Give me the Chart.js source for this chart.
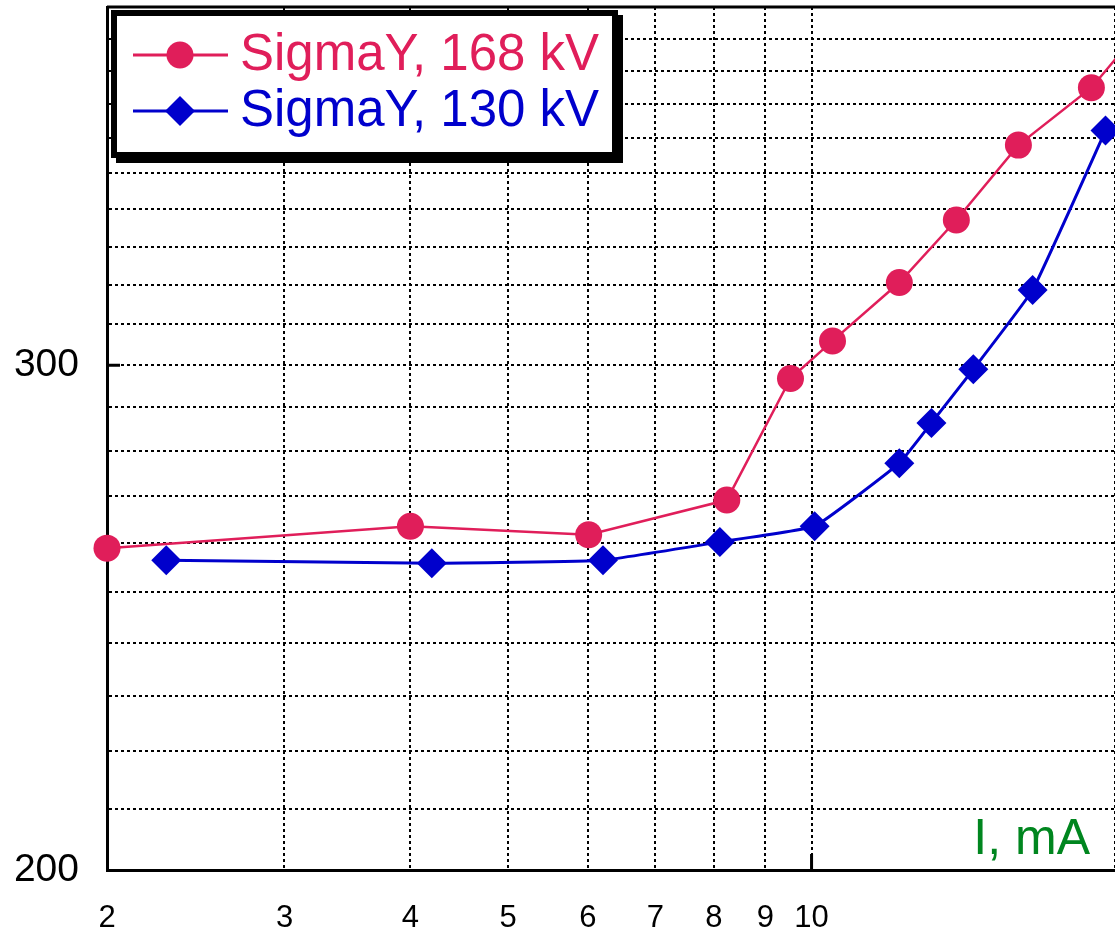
<!DOCTYPE html>
<html>
<head>
<meta charset="utf-8">
<script src="https://cdn.jsdelivr.net/npm/chart.js@4/dist/chart.umd.min.js"></script>
<style>
  html, body { margin: 0; padding: 0; background: #fff; overflow: hidden; }
</style>
</head>
<body>
<canvas id="myChartSigma" width="1115" height="934"></canvas>
<script>
// data
var xs168 = [2, 4, 6.01, 8.24, 9.53, 10.49, 12.22, 13.92, 16.04, 18.95, 21.6];
var ys168 = [259, 263.6, 261.8, 269.2, 296.8, 305.9, 320.6, 337.1, 358, 374.9, 396];
var xs130 = [2.29, 4.2, 6.21, 8.11, 10.07, 12.22, 13.15, 14.47, 16.57, 19.57];
var ys130 = [256.5, 255.9, 256.5, 260.3, 263.6, 277.3, 286.4, 299, 318.7, 362.2];

var xTicks = [2, 3, 4, 5, 6, 7, 8, 9, 10, 20];
var xTickLabels = ['2', '3', '4', '5', '6', '7', '8', '9', '10', ''];
var yTicks = [200, 210, 220, 230, 240, 250, 260, 270, 280, 290, 300,
              310, 320, 330, 340, 350, 360, 370, 380, 390, 400];
var yTickLabels = ['200', '', '', '', '', '', '', '', '', '', '300',
                   '', '', '', '', '', '', '', '', '', ''];

var seriesLabels = ['SigmaY, 168 kV', 'SigmaY, 130 kV'];
var axisTitle = 'I, mA';

var RED = '#e01e5a';
var BLUE = '#0000cc';
var FONT = '"Liberation Sans", Arial, sans-serif';

function toPoints(xs, ys) {
	var pts = [];
	for (var i = 0; i < xs.length; i++) {
		pts.push({ x: xs[i], y: ys[i] });
	}
	return pts;
}

function setTicks(values) {
	return function (scale) {
		scale.ticks = values.map(function (v) { return { value: v }; });
	};
}

var frame = {
	id: 'frame',
	afterDraw: function (chart) {
		var ctx = chart.ctx;
		var a = chart.chartArea;
		var xs = chart.scales.x;
		var ys = chart.scales.y;

		ctx.save();
		// top border
		ctx.strokeStyle = '#000';
		ctx.lineWidth = 3;
		ctx.beginPath();
		ctx.moveTo(a.left, a.top);
		ctx.lineTo(a.right, a.top);
		ctx.stroke();

		// short solid major ticks
		ctx.lineWidth = 3;
		ctx.beginPath();
		var y300 = ys.getPixelForValue(300);
		ctx.moveTo(a.left, y300);
		ctx.lineTo(a.left + 13, y300);
		var x10 = xs.getPixelForValue(10);
		ctx.moveTo(x10, a.bottom);
		ctx.lineTo(x10, a.bottom - 16);
		ctx.stroke();

		// axis title
		ctx.fillStyle = '#00861f';
		ctx.font = '50px ' + FONT;
		ctx.textAlign = 'right';
		ctx.textBaseline = 'alphabetic';
		ctx.fillText(axisTitle, 1090, 854);

		// legend box with shadow
		ctx.fillStyle = '#000';
		ctx.fillRect(116, 15, 507, 148);
		ctx.fillRect(111, 10, 507, 148);
		ctx.fillStyle = '#fff';
		ctx.fillRect(117, 16, 495, 136);

		var rows = [
			{ y: 55, color: RED, shape: 'circle', text: seriesLabels[0] },
			{ y: 111, color: BLUE, shape: 'diamond', text: seriesLabels[1] }
		];
		rows.forEach(function (r) {
			ctx.strokeStyle = r.color;
			ctx.fillStyle = r.color;
			ctx.lineWidth = 3;
			ctx.beginPath();
			ctx.moveTo(133, r.y);
			ctx.lineTo(228, r.y);
			ctx.stroke();
			ctx.beginPath();
			if (r.shape === 'circle') {
				ctx.arc(180, r.y, 13.5, 0, Math.PI * 2);
			} else {
				ctx.moveTo(180, r.y - 15);
				ctx.lineTo(195, r.y);
				ctx.lineTo(180, r.y + 15);
				ctx.lineTo(165, r.y);
				ctx.closePath();
			}
			ctx.fill();
			ctx.font = '51px ' + FONT;
			ctx.textAlign = 'left';
			ctx.textBaseline = 'middle';
			ctx.fillText(r.text, 240, r.y + 1);
		});
		ctx.restore();
	}
};

var myChartSigma = new Chart('myChartSigma', {
	type: 'line',
	data: {
		datasets: [{
			label: seriesLabels[0],
			data: toPoints(xs168, ys168),
			borderColor: RED,
			backgroundColor: RED,
			borderWidth: 2.5,
			pointStyle: 'circle',
			pointRadius: 13.5,
			pointBorderWidth: 0,
			tension: 0,
			clip: false
		}, {
			label: seriesLabels[1],
			data: toPoints(xs130, ys130),
			borderColor: BLUE,
			backgroundColor: BLUE,
			borderWidth: 3,
			pointStyle: 'rectRot',
			pointRadius: 15,
			pointBorderWidth: 0,
			tension: 0.1,
			clip: false
		}]
	},
	options: {
		responsive: false,
		animation: false,
		layout: { autoPadding: false, padding: { top: 7, right: 0, left: 0, bottom: 0 } },
		plugins: {
			legend: { display: false },
			tooltip: { enabled: false }
		},
		scales: {
			x: {
				type: 'logarithmic',
				min: 2,
				max: 20,
				afterBuildTicks: setTicks(xTicks),
				afterFit: function (scale) {
					scale.height = 64;
					scale.paddingLeft = 0;
					scale.paddingRight = 0;
				},
				grid: { color: '#000', lineWidth: 2, drawTicks: false },
				border: { display: true, color: '#000', width: 3, dash: [3, 3] },
				ticks: {
					autoSkip: false,
					maxRotation: 0,
					padding: 30,
					color: '#000',
					font: { family: FONT, size: 31 },
					callback: function (value, index) { return xTickLabels[index]; }
				}
			},
			y: {
				type: 'logarithmic',
				min: 200,
				max: 400,
				afterBuildTicks: setTicks(yTicks),
				afterFit: function (scale) {
					scale.width = 107;
					scale.paddingTop = 0;
					scale.paddingBottom = 0;
				},
				grid: { color: '#000', lineWidth: 2, drawTicks: false },
				border: { display: true, color: '#000', width: 3, dash: [3, 3] },
				ticks: {
					autoSkip: false,
					padding: 28,
					color: '#000',
					font: { family: FONT, size: 39 },
					callback: function (value, index) { return yTickLabels[index]; }
				}
			}
		}
	},
	plugins: [frame]
});
</script>
</body>
</html>
